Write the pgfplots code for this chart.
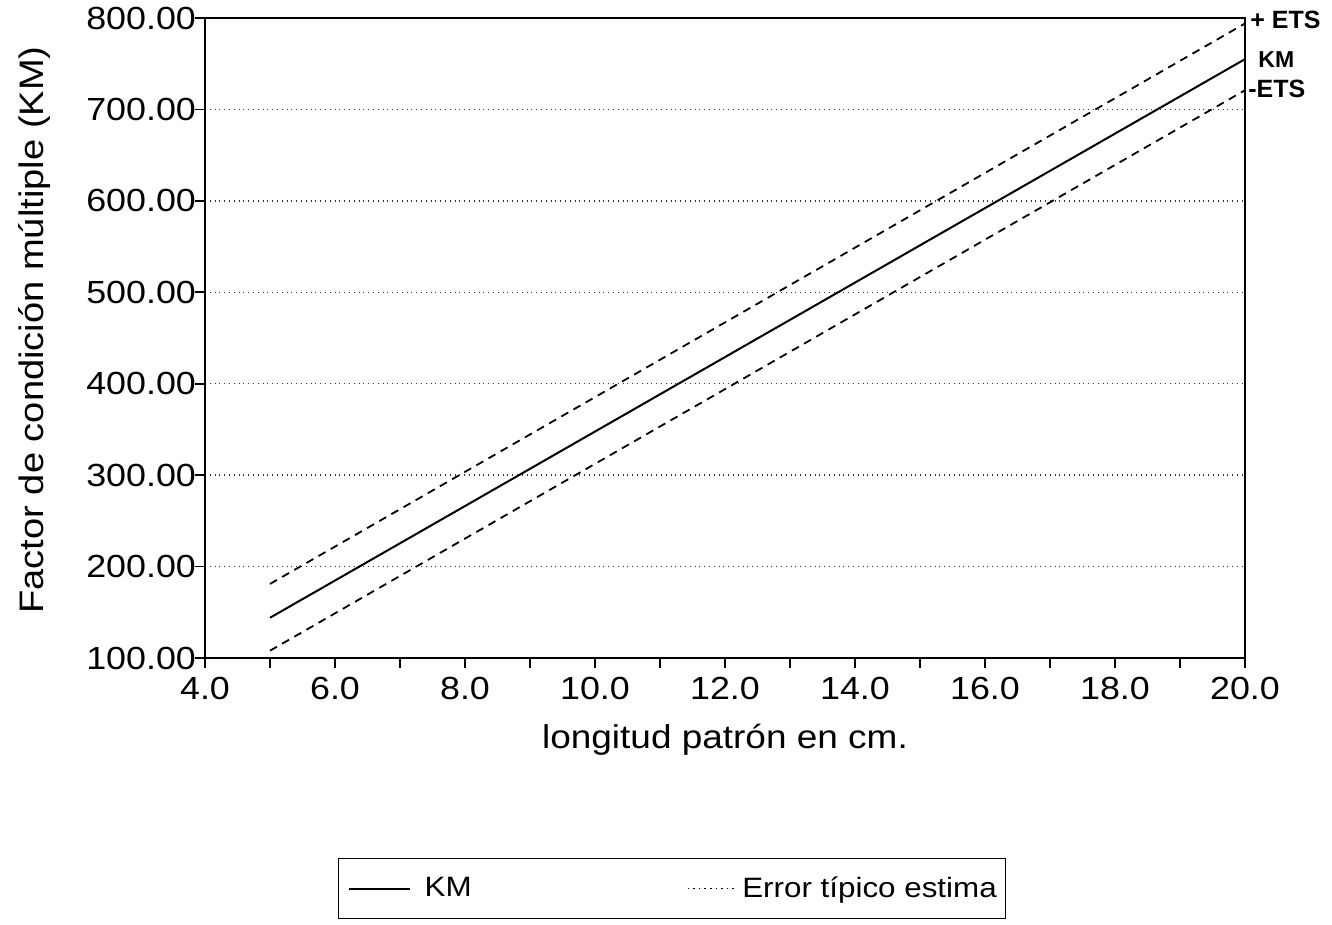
\documentclass[border=0pt]{standalone}
\usepackage{fontspec}
\setmainfont{Liberation Sans}[FakeStretch=1.12]
\newfontfamily\lblfont{Liberation Sans}
\usepackage{pgfplots}
\pgfplotsset{compat=1.18}

\begin{document}
\begin{tikzpicture}
% page size: 1 px of the reference = 0.5pt, axis box SW corner at origin
\path[use as bounding box] (-102.5pt,-133.5pt) rectangle (563.5pt,329pt);
\begin{axis}[
  scale only axis, width=520pt, height=320pt,
  xmin=4, xmax=20, ymin=100, ymax=800,
  clip=false,
  xtick={4,6,...,20}, minor xtick={5,7,...,19},
  ytick={100,200,...,800},
  tick align=outside, major tick length=5pt, minor tick length=5pt,
  xtick pos=bottom, ytick pos=left,
  /pgf/number format/assume math mode=true,
  xticklabel style={yshift=-1pt, /pgf/number format/.cd, fixed, fixed zerofill, precision=1},
  yticklabel style={xshift=4pt, /pgf/number format/.cd, fixed, fixed zerofill, precision=2},
  tick label style={font=\fontsize{16}{19}\selectfont},
  axis line style={line width=0.9pt},
  tick style={line width=0.8pt, black},
  ymajorgrids,
  grid style={dotted, black!80, line width=0.7pt},
  xlabel={longitud patrón en cm.},
  ylabel={Factor de condición múltiple (KM)},
  xlabel style={at={(axis description cs:0.5,0)}, anchor=center, yshift=-41pt, font=\fontsize{16.5}{19}\selectfont},
  ylabel style={at={(axis description cs:0,0.5)}, anchor=center, yshift=85pt, xshift=4pt, font=\fontsize{17}{20}\selectfont},
  legend columns=2,
  legend style={at={(axis description cs:0.1279,-0.3125)}, anchor=north west,
    draw=black, line width=0.7pt, inner xsep=4.5pt, inner ysep=9pt,
    column sep=0pt, font=\fontsize{14}{16}\selectfont,
    nodes={inner sep=0pt}, cells={anchor=west}},
]
\addlegendimage{black, solid, line width=1pt,
  legend image code/.code={\draw[black, solid, line width=1pt] (0pt,0pt) -- (30.5pt,0pt);}}
\addlegendentry{\makebox[138pt][l]{\hspace{7pt}KM}}
\addlegendimage{black, dotted, line width=0.8pt,
  legend image code/.code={\draw[black, dotted, line width=0.8pt] (0pt,0pt) -- (23.5pt,0pt);}}
\addlegendentry{\hspace{3.5pt}Error típico estima}

% KM
\addplot[forget plot, black, line width=1pt] coordinates {(5,144) (20,755)};
% + ETS
\addplot[forget plot, black, line width=0.9pt, dash pattern=on 4pt off 3pt] coordinates {(5,181) (20,794)};
% - ETS
\addplot[forget plot, black, line width=0.9pt, dash pattern=on 4pt off 3pt] coordinates {(5,108) (20,721)};

\node[anchor=west, inner sep=0pt, xshift=2.5pt, font=\lblfont\bfseries\fontsize{12.5}{14}\selectfont] at (axis cs:20,798) {+ ETS};
\node[anchor=west, inner sep=0pt, xshift=6.5pt, font=\lblfont\bfseries\fontsize{11.5}{13}\selectfont] at (axis cs:20,754) {KM};
\node[anchor=west, inner sep=0pt, xshift=1.5pt, font=\lblfont\bfseries\fontsize{12.5}{14}\selectfont] at (axis cs:20,723) {-ETS};
\end{axis}
\end{tikzpicture}
\end{document}
